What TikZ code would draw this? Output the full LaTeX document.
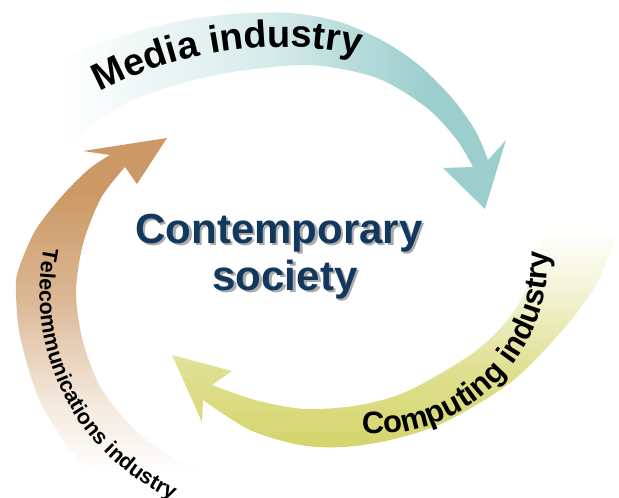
\documentclass[tikz,border=0pt]{standalone}
\usepackage{fontspec}
\setmainfont{Liberation Sans}
\usetikzlibrary{decorations.text}
\definecolor{mediateal}{HTML}{9DCECE}
\definecolor{compolive}{HTML}{D4D46A}
\definecolor{teletan}{HTML}{CC9966}
\definecolor{navytext}{HTML}{12385E}
\definecolor{shadowgray}{HTML}{ABABAB}
\colorlet{medmid}{mediateal!40!white}
\colorlet{compa}{compolive!72!white}
\colorlet{compb}{compolive!25!white}
\colorlet{telea}{teletan!22!white}
\colorlet{teleb}{teletan!70!white}
\pgfdeclarehorizontalshading{mediashading}{100bp}{color(0bp)=(white); color(29bp)=(white); color(50bp)=(medmid); color(67bp)=(mediateal); color(100bp)=(mediateal)}
\pgfdeclareverticalshading{compshading}{100bp}{color(0bp)=(compolive); color(25bp)=(compolive); color(40bp)=(compa); color(55bp)=(compb); color(66bp)=(white); color(100bp)=(white)}
\pgfdeclareverticalshading{teleshading}{100bp}{color(0bp)=(white); color(33bp)=(white); color(42bp)=(telea); color(55bp)=(teleb); color(68bp)=(teletan); color(100bp)=(teletan)}
\tikzset{
  centertext/.style={font=\fontsize{42}{46}\selectfont\bfseries, text=navytext, inner sep=0pt, anchor=base},
  centershadow/.style={font=\fontsize{42}{46}\selectfont\bfseries, text=shadowgray, inner sep=0pt, anchor=base},
  mediashade/.style={shading=mediashading},
  compshade/.style={shading=compshading},
  teleshade/.style={shading=teleshading},
}
\begin{document}
\begin{tikzpicture}[x=1pt,y=-1pt]
\useasboundingbox (0,0) rectangle (619,498);
\clip (0,0) rectangle (619,498);
\fill[white] (0,0) rectangle (619,498);

% Media industry arrow
\path[mediashade]
  plot[smooth] coordinates {(20,88) (55,64) (100,43) (170,23) (233,14) (290,13) (340,22) (385,42) (420,66) (452,98) (475,130) (488,160)}
  -- (506,140) -- (485,209) -- (443,168)
  -- plot[smooth] coordinates {(473,167) (457,140) (427,108) (377,78) (310,65) (233,72) (180,84) (133,100) (95,122) (67,147) (40,172) (20,195)}
  -- cycle;

% Computing industry arrow
\path[compshade]
  plot[smooth] coordinates {(632,178) (624,215) (612,250) (593,290) (560,333) (510,383) (443,423) (390,440) (343,447) (300,445) (250,430) (203,400)}
  -- (202,422) -- (172,355) -- (232,371)
  -- plot[smooth] coordinates {(212,385) (255,400) (305,409) (360,405) (410,390) (477,350) (517,307) (540,250) (545,215) (545,178)}
  -- cycle;

% Telecommunications industry arrow
\path[teleshade]
  plot[smooth] coordinates {(233,482) (217,476) (171,457) (132,427) (101,388) (83,342) (76,293) (83,244) (101,198) (125,167)}
  -- (137,184) -- (167,138) -- (83,151)
  -- plot[smooth] coordinates {(110,155) (89,169) (62,196) (35,231) (18,271) (16,293) (20,336) (39,399) (74,454) (123,498) (172,525) (223,539)}
  -- cycle;

% curved labels
\path[decorate, decoration={text along path, text={|\fontsize{38}{40}\selectfont\bfseries|Media industry}}]
  (281,433) ++(-118:386) arc[start angle=-118, end angle=-66, radius=386];
\path[decorate, decoration={text along path, text={|\fontsize{31}{33}\selectfont\bfseries|Computing industry}}]
  (374,260) ++(94:174) arc[start angle=94, end angle=-14, radius=174];
\path[decorate, decoration={text along path, text={|\fontsize{21.5}{23}\selectfont\bfseries|Telecommunications industry}}]
  (266,293) ++(191.5:226.5) arc[start angle=191.5, end angle=100, radius=226.5];

% centre text
\node[centershadow] (ctopshadow) at (281.5,245.5) {Contemporary};
\node[centershadow] (cbotshadow) at (287.5,292.5) {society};
\node[centertext] (ctop) at (279,243) {Contemporary};
\node[centertext] (cbot) at (285,290) {society};
\end{tikzpicture}
\end{document}
